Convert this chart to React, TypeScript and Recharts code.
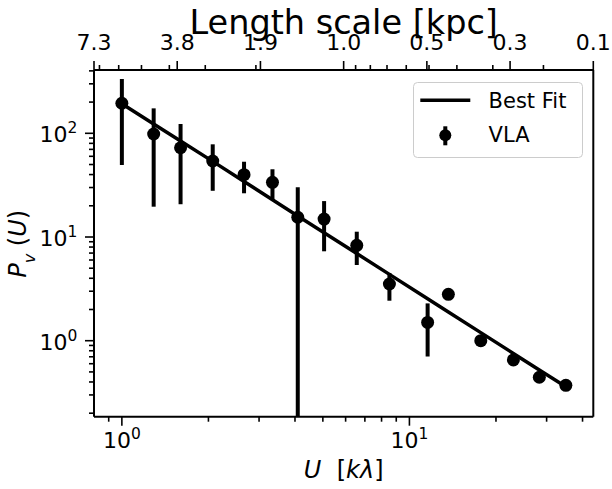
import { ComposedChart, Line, Scatter, ErrorBar, XAxis, YAxis, Legend, ReferenceLine } from "recharts"

// spatial frequency U [k lambda]
const uValues = [1.0, 1.29, 1.6, 2.07, 2.66, 3.34, 4.09, 5.05, 6.56, 8.52, 11.57, 13.66, 17.71, 22.99, 28.3, 35.0]
// VLA power P_v(U) with error range
const pValues = [195, 98.5, 72.6, 54.1, 39.9, 33.7, 15.5, 14.9, 8.32, 3.52, 1.5, 2.8, 1.0, 0.652, 0.444, 0.371]
const pUpper = [334, 174, 123, 78.3, 53.2, 45.0, 30.2, 22.2, 11.25, 4.5, 2.29, 2.8, 1.0, 0.652, 0.444, 0.371]
const pLower = [49.5, 19.6, 20.7, 27.9, 26.4, 22.7, 0.186, 7.28, 5.37, 2.43, 0.704, 2.8, 1.0, 0.652, 0.444, 0.371]
// best fit curve read at the same U
const fitValues = [193, 122.7, 84.3, 53.6, 34.3, 22.9, 15.97, 11.0, 6.93, 4.36, 2.54, 1.89, 1.196, 0.754, 0.521, 0.359]

const bottomMajorTicks = [1, 10]
const bottomMinorTicks = [0.9, 2, 3, 4, 5, 6, 7, 8, 9, 20, 30, 40]
const yMajorTicks = [1, 10, 100]
const yMinorTicks = [0.2, 0.3, 0.4, 0.5, 0.6, 0.7, 0.8, 0.9, 2, 3, 4, 5, 6, 7, 8, 9, 20, 30, 40, 50, 60, 70, 80, 90, 200, 300, 400]
const topLabels = ["7.3", "3.8", "1.9", "1.0", "0.5", "0.3", "0.1"]
const topMinorKpc = [7, 6, 5, 4, 3, 2, 0.9, 0.8, 0.7, 0.6, 0.5, 0.4, 0.3, 0.2]
const KPC_PER_INV_U = 5.85

const U_DOMAIN: [number, number] = [0.8, 43.6]
const P_DOMAIN: [number, number] = [0.185, 407.8]

const topMajorTicks = topLabels.map((_, i) =>
  i === topLabels.length - 1 ? U_DOMAIN[1] : U_DOMAIN[0] * Math.pow(U_DOMAIN[1] / U_DOMAIN[0], i / (topLabels.length - 1))
)
const topMinorTicks = topMinorKpc.map((l) => KPC_PER_INV_U / l)

const data = uValues.map((u, i) => ({
  u,
  p: pValues[i],
  fit: fitValues[i],
  err: [pValues[i] - pLower[i], pUpper[i] - pValues[i]],
}))

const FONT = "DejaVu Sans"
const MAJOR = 9
const MINOR = 5
const TICK_W = 1.6

function BottomTick({ x, y, payload }: any) {
  const v = payload.value
  const major = bottomMajorTicks.includes(v)
  return (
    <g>
      <line x1={x} x2={x} y1={y} y2={y + (major ? MAJOR : MINOR)} stroke="#000" strokeWidth={TICK_W} />
      {major && (
        <text x={x} y={y + 31.6} textAnchor="middle" fontFamily={FONT} fontSize={22} fill="#000">
          10<tspan dy={-9} fontSize={15.5}>{Math.round(Math.log10(v))}</tspan>
        </text>
      )}
    </g>
  )
}

function LeftTick({ x, y, payload }: any) {
  const v = payload.value
  const major = yMajorTicks.includes(v)
  return (
    <g>
      <line x1={x - (major ? MAJOR : MINOR)} x2={x} y1={y} y2={y} stroke="#000" strokeWidth={TICK_W} />
      {major && (
        <text x={x - 16.7} y={y + 9} textAnchor="end" fontFamily={FONT} fontSize={22} fill="#000">
          10<tspan dy={-9} fontSize={15.5}>{Math.round(Math.log10(v))}</tspan>
        </text>
      )}
    </g>
  )
}

function TopTick({ x, y, payload }: any) {
  const v = payload.value
  const idx = topMajorTicks.findIndex((m) => Math.abs(m - v) < 1e-9)
  const major = idx >= 0
  return (
    <g>
      <line x1={x} x2={x} y1={y} y2={y - (major ? MAJOR : MINOR)} stroke="#000" strokeWidth={TICK_W} />
      {major && (
        <text x={x} y={y - 20} textAnchor="middle" fontFamily={FONT} fontSize={22} fill="#000">
          {topLabels[idx]}
        </text>
      )}
    </g>
  )
}

function TitleLabel() {
  return (
    <text x={343.7} y={33.5} textAnchor="middle" fontFamily={FONT} fontSize={33.5} fill="#000">
      Length scale [kpc]
    </text>
  )
}

function XLabel() {
  return (
    <text x={343.7} y={478} textAnchor="middle" fontFamily={FONT} fontSize={24} fill="#000">
      <tspan fontStyle="italic">U</tspan>
      {"\u00a0\u00a0["}
      <tspan fontStyle="italic">kλ</tspan>]
    </text>
  )
}

function YLabel() {
  return (
    <text transform="translate(26,243.8) rotate(-90)" x={0} y={0} textAnchor="middle" fontFamily={FONT} fontSize={24} fill="#000">
      <tspan fontStyle="italic">P</tspan>
      <tspan fontStyle="italic" fontSize={16} dy={9}>v</tspan>
      <tspan dy={-9}>{"\u00a0("}</tspan>
      <tspan fontStyle="italic">U</tspan>)
    </text>
  )
}

function LegendBox() {
  return (
    <svg width={171} height={77} style={{ display: "block" }}>
      <rect x={0.5} y={0.5} width={169} height={75} rx={4} fill="#fff" fillOpacity={0.8} stroke="#cccccc" />
      <line x1={7.3} x2={57.3} y1={18.3} y2={18.3} stroke="#000" strokeWidth={3.5} />
      <text x={75.6} y={26} fontFamily={FONT} fontSize={21} fill="#000">Best Fit</text>
      <line x1={32.3} x2={32.3} y1={44.3} y2={63.3} stroke="#000" strokeWidth={4} />
      <circle cx={32.3} cy={53.3} r={6} fill="#000" />
      <text x={75.6} y={60.3} fontFamily={FONT} fontSize={21} fill="#000">VLA</text>
    </svg>
  )
}

const axisLine = { stroke: "#000", strokeWidth: 2 }

export default function App() {
  return (
    <div style={{ position: "absolute", left: 0, top: 0 }}>
      <ComposedChart width={612} height={489} data={data} margin={{ top: 30, right: 18.7, bottom: 22.3, left: 34 }}>
        <XAxis
          xAxisId="bottom"
          dataKey="u"
          type="number"
          scale="log"
          domain={U_DOMAIN}
          allowDataOverflow
          ticks={[...bottomMajorTicks, ...bottomMinorTicks]}
          interval={0}
          tick={(props: any) => <BottomTick {...props} />}
          tickLine={false}
          tickSize={0}
          tickMargin={0}
          height={50}
          axisLine={axisLine}
          label={() => <XLabel />}
        />
        <XAxis
          xAxisId="top"
          orientation="top"
          dataKey="u"
          type="number"
          scale="log"
          domain={U_DOMAIN}
          allowDataOverflow
          ticks={[...topMajorTicks, ...topMinorTicks]}
          interval={0}
          tick={(props: any) => <TopTick {...props} />}
          tickLine={false}
          tickSize={0}
          tickMargin={0}
          height={40}
          axisLine={axisLine}
          label={() => <TitleLabel />}
        />
        <YAxis
          yAxisId="left"
          type="number"
          scale="log"
          domain={P_DOMAIN}
          allowDataOverflow
          ticks={[...yMajorTicks, ...yMinorTicks]}
          interval={0}
          tick={(props: any) => <LeftTick {...props} />}
          tickLine={false}
          tickSize={0}
          tickMargin={0}
          width={60}
          axisLine={axisLine}
          label={() => <YLabel />}
        />
        <ReferenceLine xAxisId="bottom" yAxisId="left" x={U_DOMAIN[1]} stroke="#000" strokeWidth={2} />
        <Scatter
          xAxisId="bottom"
          yAxisId="left"
          dataKey="p"
          fill="#000"
          isAnimationActive={false}
          shape={(props: any) => <circle cx={props.cx} cy={props.cy} r={6.5} fill="#000" />}
        >
          <ErrorBar dataKey="err" direction="y" width={0} strokeWidth={4} stroke="#000" isAnimationActive={false} />
        </Scatter>
        <Line
          xAxisId="bottom"
          yAxisId="left"
          dataKey="fit"
          type="linear"
          stroke="#000"
          strokeWidth={3.5}
          dot={false}
          activeDot={false}
          isAnimationActive={false}
        />
        <Legend
          verticalAlign="middle"
          layout="horizontal"
          wrapperStyle={{ position: "absolute", left: 412.7, top: 81.7, width: 171, height: 77 }}
          content={() => <LegendBox />}
        />
      </ComposedChart>
    </div>
  )
}
